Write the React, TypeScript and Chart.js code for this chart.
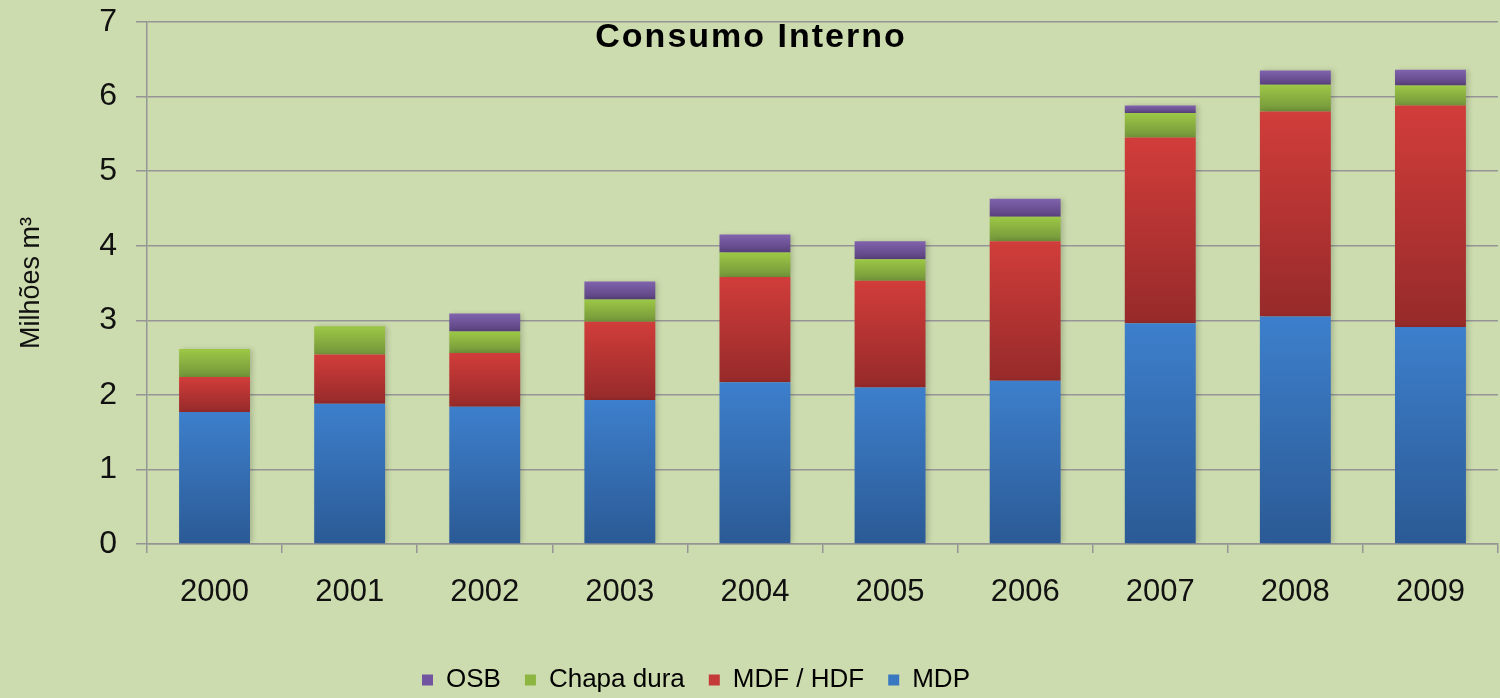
import React, { useEffect, useRef } from 'react';
import { Chart, registerables } from 'chart.js';

Chart.register(...registerables);

// ---- data ----
const years = ['2000', '2001', '2002', '2003', '2004', '2005', '2006', '2007', '2008', '2009'];
const mdp = [1.77, 1.88, 1.84, 1.93, 2.17, 2.10, 2.19, 2.96, 3.05, 2.91];
const mdfHdf = [0.47, 0.66, 0.72, 1.05, 1.41, 1.43, 1.87, 2.49, 2.75, 2.97];
const chapaDura = [0.375, 0.38, 0.29, 0.30, 0.33, 0.29, 0.33, 0.33, 0.36, 0.27];
const osb = [0, 0, 0.24, 0.24, 0.24, 0.24, 0.24, 0.10, 0.19, 0.21];
const seriesNames = ['MDP', 'MDF / HDF', 'Chapa dura', 'OSB'];
const chartTitle = 'Consumo Interno';
const yAxisTitle = 'Milhões m³';
const yMin = 0;
const yMax = 7;
const yStep = 1;

// ---- style ----
const series = [mdp, mdfHdf, chapaDura, osb];
const topColors = ['#3d7fcc', '#d13d3a', '#9dc846', '#8163ae'];
const bottomColors = ['#2b5a95', '#962a2a', '#73953a', '#5a427e'];
const legendColors = ['#3a78c2', '#c43a38', '#8db541', '#7255a0'];
const BG = '#cddcae';
const GRID = '#959595';
const FONT = '"Liberation Sans", Arial, sans-serif';
const LEGEND_PAD = 24;
const LEGEND_SHIFT = 53;

function gradientFor(idx: number) {
  return (ctx: any) => {
    const chart = ctx.chart;
    const y = chart.scales && chart.scales.y;
    const i = ctx.dataIndex;
    if (!y || i === undefined || ctx.type !== 'data') return topColors[idx];
    let base = 0;
    for (let k = 0; k < idx; k++) base += series[k][i];
    const v = base + series[idx][i];
    const y0 = y.getPixelForValue(base);
    const y1 = y.getPixelForValue(v);
    if (!isFinite(y0) || !isFinite(y1) || Math.abs(y0 - y1) < 0.5) return topColors[idx];
    const g = chart.ctx.createLinearGradient(0, y1, 0, y0);
    g.addColorStop(0, topColors[idx]);
    g.addColorStop(1, bottomColors[idx]);
    return g;
  };
}

const shadowPlugin = {
  id: 'barShadow',
  beforeDatasetsDraw(chart: any) {
    const c = chart.ctx;
    c.save();
    c.shadowColor = 'rgba(0,0,0,0.18)';
    c.shadowBlur = 5;
    c.shadowOffsetX = 3;
    c.shadowOffsetY = 0;
  },
  afterDatasetsDraw(chart: any) {
    chart.ctx.restore();
  },
};

const legendShiftPlugin = {
  id: 'legendShift',
  afterLayout(chart: any) {
    const lg = chart.legend;
    if (lg) {
      lg.left -= LEGEND_SHIFT;
      lg.right -= LEGEND_SHIFT;
    }
  },
};

const titlePlugin = {
  id: 'overlayTitle',
  afterDraw(chart: any) {
    const c = chart.ctx;
    c.save();
    c.font = 'bold 34px ' + FONT;
    try { (c as any).letterSpacing = '2px'; } catch (e) {}
    c.fillStyle = '#000';
    c.textAlign = 'center';
    c.textBaseline = 'alphabetic';
    c.fillText(chartTitle, chart.width / 2 + 1, 47);
    c.restore();
  },
};

export default function App() {
  const ref = useRef<HTMLCanvasElement | null>(null);

  useEffect(() => {
    if (!ref.current) return;
    const chart = new Chart(ref.current, {
      type: 'bar',
      data: {
        labels: years,
        datasets: series.map((d, idx) => ({
          label: seriesNames[idx],
          data: d,
          backgroundColor: gradientFor(idx),
          borderWidth: 0,
          categoryPercentage: 1,
          barPercentage: 0.525,
        })),
      },
      options: {
        animation: false,
        responsive: true,
        maintainAspectRatio: false,
        layout: { padding: { top: 22, right: 2, left: 0, bottom: -5 } },
        plugins: {
          title: { display: false },
          tooltip: { enabled: false },
          legend: {
            display: true,
            position: 'bottom',
            reverse: true,
            labels: {
              color: '#000',
              font: { family: FONT, size: 26 },
              boxWidth: 11,
              boxHeight: 11,
              padding: LEGEND_PAD,
              generateLabels: (chart: any) => {
                return chart.data.datasets.map((ds: any, i: number) => ({
                  text: ds.label,
                  fillStyle: legendColors[i],
                  strokeStyle: legendColors[i],
                  lineWidth: 0,
                  hidden: false,
                  datasetIndex: i,
                  fontColor: '#000',
                }));
              },
            },
          },
        },
        scales: {
          x: {
            stacked: true,
            afterFit: (s: any) => { s.height = 67 + (56 - LEGEND_PAD); },
            grid: {
              display: true,
              drawOnChartArea: false,
              drawTicks: true,
              tickLength: 9,
              color: GRID,
              lineWidth: 1.5,
              offset: true,
            },
            border: { display: true, color: GRID, width: 1.5 },
            ticks: {
              color: '#111',
              font: { family: FONT, size: 31 },
              padding: 21,
              maxRotation: 0,
            },
          },
          y: {
            stacked: true,
            min: yMin,
            max: yMax,
            afterFit: (s: any) => { s.width = 147; s.paddingTop = 0; s.paddingBottom = 0; },
            ticks: {
              stepSize: yStep,
              color: '#111',
              font: { family: FONT, size: 32 },
              padding: 19,
            },
            grid: {
              color: GRID,
              lineWidth: 1.5,
              drawTicks: true,
              tickLength: 11,
            },
            border: { display: true, color: GRID, width: 1.5 },
            title: {
              display: true,
              text: yAxisTitle,
              color: '#111',
              font: { family: FONT, size: 27 },
              padding: { top: 15, bottom: 30 },
            },
          },
        },
      },
      plugins: [shadowPlugin, legendShiftPlugin, titlePlugin],
    });
    return () => chart.destroy();
  }, []);

  return (
    <div style={{ position: 'fixed', left: 0, top: 0, width: 1500, height: 698, background: BG }}>
      <canvas ref={ref} />
    </div>
  );
}
